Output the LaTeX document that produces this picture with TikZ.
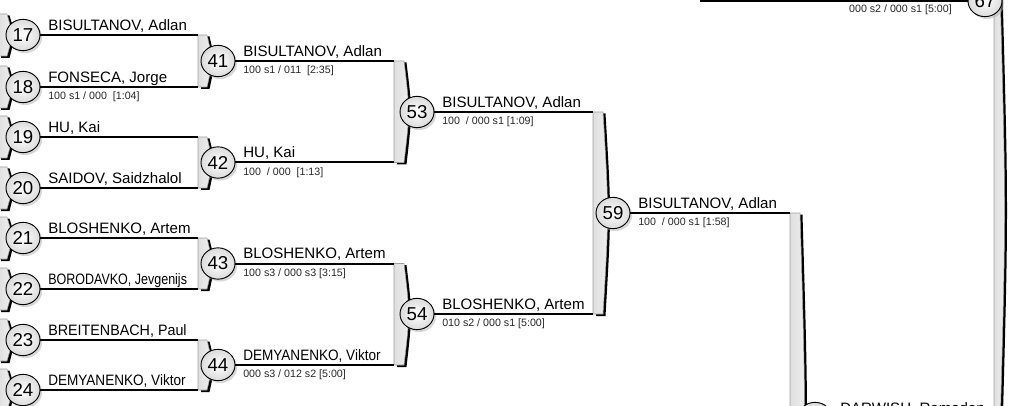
\documentclass[tikz,border=0pt]{standalone}
\usepackage{graphicx}
\usepackage{fontspec}
\setmainfont{Liberation Sans}
\usetikzlibrary{shapes.geometric,shadows,positioning}

\newcommand\namefont{\fontsize{11.3}{13}\selectfont}
\newcommand\scorefont{\fontsize{8}{9.6}\selectfont}
\newcommand\numfont{\fontsize{14}{16}\selectfont}
\newcommand\squeezed[2]{\scalebox{#1}[1]{#2}}

% bracket bar: name, x, top y, bottom y, width
\newcommand\matchbar[5]{%
  \coordinate (#1-t) at (#2,#3);
  \coordinate (#1-b) at (#2,#4);
  \fill[black] (#2+3,#3+1.5) -- (#2+#5+2.5,#3+1.5)
    .. controls (#2+#5+8.5,{(#3+#4)/2}) .. (#2+#5+2.5,#4+2) -- (#2+3,#4+2) -- cycle;
  \shadedraw[barshade] (#2,#3) -- (#2+#5,#3)
    .. controls (#2+#5+6,{(#3+#4)/2}) .. (#2+#5,#4) -- (#2,#4) -- cycle;
}

\begin{document}
\begin{tikzpicture}[x=0.75pt, y=-0.75pt,
    numcirc/.style={ellipse, draw=black, line width=0.7pt, minimum width=25.5pt, minimum height=23.5pt,
      inner sep=0pt, inner color=white, outer color=gray!28, font=\numfont,
      drop shadow={shadow xshift=1.6pt, shadow yshift=-1.8pt, fill=gray!60}},
    wire/.style={line width=1.5pt},
    namelbl/.style={anchor=base west, inner sep=0pt, font=\namefont},
    scorelbl/.style={anchor=base west, inner sep=0pt, font=\scorefont, text=black!85},
    barshade/.style={left color=gray!25, middle color=white, right color=gray!12, draw=gray!75, line width=0.4pt}
  ]
  \useasboundingbox (0,0) rectangle (1010,406);
  \clip (0,0) rectangle (1010,406);

  % bars
  \foreach \y in {35,87,137,188,238,289,340,390}{
    \matchbar{p\y}{-2}{\y-21}{\y+21}{9}
  }
  \matchbar{b41}{198}{35}{87}{9}
  \matchbar{b42}{198}{137}{188}{9}
  \matchbar{b43}{198}{238}{289}{9}
  \matchbar{b44}{198}{340}{390}{9}
  \matchbar{b53}{394}{61}{162.5}{10}
  \matchbar{b54}{394}{263.5}{365}{10}
  \matchbar{b59}{593}{112}{314}{10}
  \matchbar{b63}{790}{213}{623}{10}
  \matchbar{b67}{994}{-10}{430}{6}

  % first round
  \foreach \num/\y/\tgt/\who in {17/35/b41-t/{BISULTANOV, Adlan}, 18/87/b41-b/{FONSECA, Jorge},
      19/137/b42-t/{HU, Kai}, 20/188/b42-b/{SAIDOV, Saidzhalol},
      21/238/b43-t/{BLOSHENKO, Artem}, 22/289/b43-b/{\squeezed{0.83}{BORODAVKO, Jevgenijs}},
      23/340/b44-t/{\squeezed{0.95}{BREITENBACH, Paul}}, 24/390/b44-b/{\squeezed{0.9}{DEMYANENKO, Viktor}}} {
    \node[numcirc] (c\num) at (23,\y) {\num};
    \draw[wire] (c\num) -- (\tgt);
    \node[namelbl] (n\num) at ([xshift=18.75pt,yshift=3.4pt]c\num.center) {\who};
  }
  \node[scorelbl] (s18) at ([xshift=18.75pt,yshift=-9.4pt]c18.center) {100 s1 / 000~ [1:04]};

  % second round
  \node[numcirc] (c41) at (218,61) {41};
  \node[numcirc] (c42) at (218,162.5) {42};
  \node[numcirc] (c43) at (218,263.5) {43};
  \node[numcirc] (c44) at (218,365) {44};
  \draw[wire] (c41) -- (b53-t);
  \draw[wire] (c42) -- (b53-b);
  \draw[wire] (c43) -- (b54-t);
  \draw[wire] (c44) -- (b54-b);
  \node[namelbl] (n41) at ([xshift=18.75pt,yshift=3.4pt]c41.center) {BISULTANOV, Adlan};
  \node[scorelbl] (s41) at ([xshift=18.75pt,yshift=-9.4pt]c41.center) {100 s1 / 011~ [2:35]};
  \node[namelbl] (n42) at ([xshift=18.75pt,yshift=3.4pt]c42.center) {HU, Kai};
  \node[scorelbl] (s42) at ([xshift=18.75pt,yshift=-9.4pt]c42.center) {100~ / 000~ [1:13]};
  \node[namelbl] (n43) at ([xshift=18.75pt,yshift=3.4pt]c43.center) {BLOSHENKO, Artem};
  \node[scorelbl] (s43) at ([xshift=18.75pt,yshift=-9.4pt]c43.center) {100 s3 / 000 s3 [3:15]};
  \node[namelbl] (n44) at ([xshift=18.75pt,yshift=3.4pt]c44.center) {\squeezed{0.9}{DEMYANENKO, Viktor}};
  \node[scorelbl] (s44) at ([xshift=18.75pt,yshift=-9.4pt]c44.center) {000 s3 / 012 s2 [5:00]};

  % third round
  \node[numcirc] (c53) at (417,112) {53};
  \node[numcirc] (c54) at (417,314) {54};
  \draw[wire] (c53) -- (b59-t);
  \draw[wire] (c54) -- (b59-b);
  \node[namelbl] (n53) at ([xshift=18.75pt,yshift=3.4pt]c53.center) {BISULTANOV, Adlan};
  \node[scorelbl] (s53) at ([xshift=18.75pt,yshift=-9.4pt]c53.center) {100~ / 000 s1 [1:09]};
  \node[namelbl] (n54) at ([xshift=18.75pt,yshift=3.4pt]c54.center) {BLOSHENKO, Artem};
  \node[scorelbl] (s54) at ([xshift=18.75pt,yshift=-9.4pt]c54.center) {010 s2 / 000 s1 [5:00]};

  % fourth round
  \node[numcirc] (c59) at (613,213) {59};
  \draw[wire] (c59) -- (b63-t);
  \node[namelbl] (n59) at ([xshift=18.75pt,yshift=3.4pt]c59.center) {BISULTANOV, Adlan};
  \node[scorelbl] (s59) at ([xshift=18.75pt,yshift=-9.4pt]c59.center) {100~ / 000 s1 [1:58]};
  \node[numcirc] (c63) at (815,418) {};
  \node[namelbl] (n63) at ([xshift=18.75pt,yshift=3.4pt]c63.center) {DARWISH, Ramadan};

  % top right
  \coordinate (f-end) at (700,1);
  \node[numcirc] (c67) at (985,1) {67};
  \draw[wire] (c67) -- (f-end);
  \node[scorelbl, anchor=base east] (s67) at (952,13) {000 s2 / 000 s1 [5:00]};
\end{tikzpicture}
\end{document}
